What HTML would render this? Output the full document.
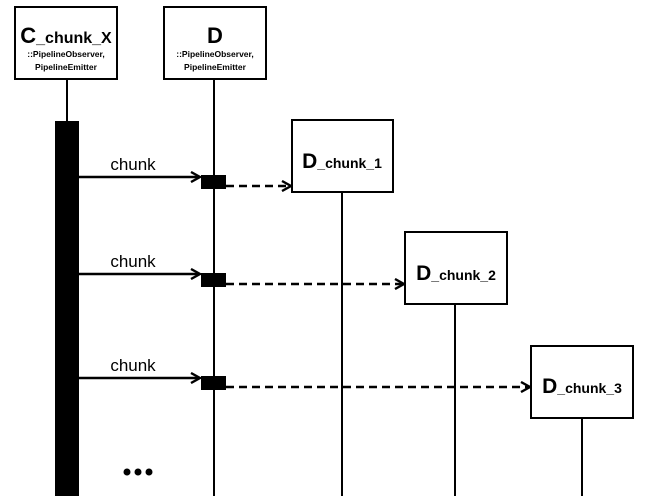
<!DOCTYPE html>
<html><head><style>body{margin:0;background:#fff}</style></head><body>
<svg width="646" height="496" xmlns="http://www.w3.org/2000/svg" font-family="Liberation Sans, sans-serif">
<defs><marker id="a" markerWidth="12" markerHeight="12" refX="10" refY="6" orient="auto" markerUnits="userSpaceOnUse"><path d="M1,1 L10,6 L1,11" fill="none" stroke="#000" stroke-width="2.4"/></marker></defs>
<g stroke="#000" stroke-width="2" fill="#fff">
<line x1="67" y1="79" x2="67" y2="125"/>
<line x1="214" y1="79" x2="214" y2="496"/>
<line x1="342" y1="192" x2="342" y2="496"/>
<line x1="455" y1="304" x2="455" y2="496"/>
<line x1="582" y1="418" x2="582" y2="496"/>
<rect x="15" y="7" width="102" height="72"/>
<rect x="164" y="7" width="102" height="72"/>
<rect x="292" y="120" width="101" height="72"/>
<rect x="405" y="232" width="102" height="72"/>
<rect x="531" y="346" width="102" height="72"/>
</g>
<rect x="55" y="121" width="24" height="375" fill="#000"/>
<g stroke="#000" stroke-width="2.5" fill="none">
<line x1="79" y1="177" x2="200" y2="177" marker-end="url(#a)"/>
<line x1="79" y1="274" x2="200" y2="274" marker-end="url(#a)"/>
<line x1="79" y1="378" x2="200" y2="378" marker-end="url(#a)"/>
<g stroke-dasharray="8,5">
<line x1="226" y1="186" x2="291" y2="186" marker-end="url(#a)"/>
<line x1="226" y1="284" x2="404" y2="284" marker-end="url(#a)"/>
<line x1="226" y1="387" x2="530" y2="387" marker-end="url(#a)"/>
</g></g>
<rect x="201" y="175" width="25" height="14" fill="#000"/>
<rect x="201" y="273" width="25" height="14" fill="#000"/>
<rect x="201" y="376" width="25" height="14" fill="#000"/>
<g font-size="17" text-anchor="middle">
<text x="133" y="170">chunk</text>
<text x="133" y="267">chunk</text>
<text x="133" y="371">chunk</text>
</g>
<g fill="#000"><circle cx="127" cy="472" r="3.5"/><circle cx="138" cy="472" r="3.5"/><circle cx="149" cy="472" r="3.5"/></g>
<g font-weight="bold" text-anchor="middle">
<text x="66" y="43" font-size="22">C<tspan font-size="16">_chunk_X</tspan></text>
<text x="66" y="57" font-size="8.5">::PipelineObserver,</text>
<text x="66" y="70" font-size="8.5">PipelineEmitter</text>
<text x="215" y="43" font-size="22">D</text>
<text x="215" y="57" font-size="8.5">::PipelineObserver,</text>
<text x="215" y="70" font-size="8.5">PipelineEmitter</text>
<text x="342" y="168" font-size="21">D<tspan font-size="14">_chunk_1</tspan></text>
<text x="456" y="280" font-size="21">D<tspan font-size="14">_chunk_2</tspan></text>
<text x="582" y="393" font-size="21">D<tspan font-size="14">_chunk_3</tspan></text>
</g>
</svg>
</body></html>
